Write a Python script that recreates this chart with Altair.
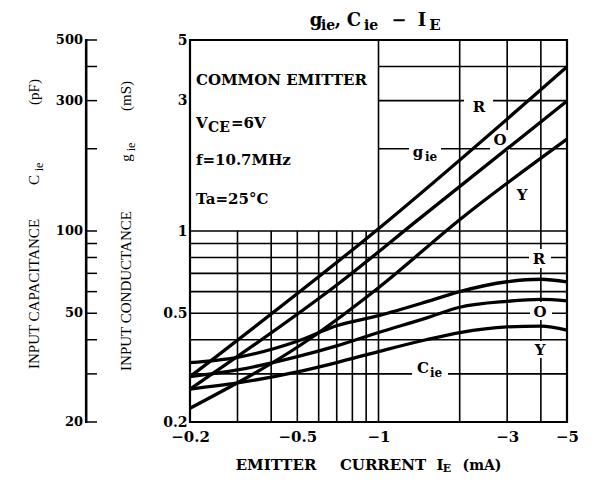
import altair as alt
import pandas as pd

# ---------------- data ----------------
ie_ticks = [0.2, 0.5, 1, 3, 5]            # |IE| in mA (shown with a minus sign)
gie_ticks = [0.2, 0.5, 1, 3, 5]           # gie in mS
cie_ticks_pf = [20, 30, 40, 50, 60, 70, 80, 90, 100, 200, 300, 400, 500]
cie_labels_pf = [20, 50, 100, 300, 500]
cie_range_pf = [20, 500]

gie_R_I = [0.2, 1.0, 5.0]
gie_R = [0.293, 1.02, 3.99]
gie_O_I = [0.2, 0.74, 1.4, 5.0]
gie_O = [0.264, 0.662, 1.098, 2.99]
gie_Y_I = [0.2, 0.55, 1.0, 2.0, 5.0]
gie_Y = [0.2245, 0.40, 0.62, 1.10, 2.17]

cie_I = [0.2, 0.3, 0.5, 0.7, 1.0, 1.5, 2.0, 3.0, 4.0, 5.0]
cie_R_pf = [33.0, 34.5, 39.5, 45.0, 49.0, 55.0, 60.0, 65.2, 66.6, 65.2]
cie_O_pf = [29.3, 31.0, 34.7, 38.0, 42.5, 48.0, 52.6, 55.3, 56.2, 55.5]
cie_Y_pf = [26.4, 27.8, 30.5, 33.0, 36.2, 40.0, 42.5, 44.6, 44.9, 43.4]

grid_v_low = [0.3, 0.4, 0.5, 0.6, 0.7, 0.8, 0.9, 1, 2, 3, 4]
grid_v_high = [1, 2, 3, 4]
grid_h_low = [0.3, 0.4, 0.5, 0.6, 0.7, 0.8, 0.9, 1]
grid_h_high = [2, 3, 4]

# ---------------- tables ----------------
rows = []
for name, xs_, ys_ in [("gR", gie_R_I, gie_R), ("gO", gie_O_I, gie_O), ("gY", gie_Y_I, gie_Y)]:
    rows += [{"I": a, "v": b, "series": name} for a, b in zip(xs_, ys_)]
for name, ys_ in [("cR", cie_R_pf), ("cO", cie_O_pf), ("cY", cie_Y_pf)]:
    rows += [{"I": a, "v": b / 100.0, "series": name} for a, b in zip(cie_I, ys_)]
curves = pd.DataFrame(rows)

gv = pd.DataFrame([{"I": x, "y0": 0.2, "y1": 1.0} for x in grid_v_low] +
                  [{"I": x, "y0": 1.0, "y1": 5.0} for x in grid_v_high])
gh = pd.DataFrame([{"v": y, "x0": 0.2, "x1": 5.0} for y in grid_h_low] +
                  [{"v": y, "x0": 1.0, "x1": 5.0} for y in grid_h_high])

cie_t = pd.DataFrame({"pf": cie_ticks_pf})
cie_l = pd.DataFrame({"pf": cie_labels_pf})
cie_r = pd.DataFrame({"pf": cie_range_pf})
one = pd.DataFrame({"a": [0]})

# ---------------- styling ----------------
OX, OY = 190, 40          # plot origin on the page
W, H = 377, 382
SERIF = "DejaVu Serif"
TIMES = "Liberation Serif"

xs = alt.Scale(type="log", domain=[0.2, 5], nice=False)
ys = alt.Scale(type="log", domain=[0.2, 5], nice=False)
xaxis = alt.Axis(values=ie_ticks, labelExpr="'\u2212' + datum.value", grid=False, ticks=False,
                 domain=False, labelFlush=False, labelOverlap=False, labelFont=SERIF,
                 labelFontSize=15, labelFontWeight="bold", labelColor="black",
                 labelPadding=7, title=None)
yaxis = alt.Axis(values=gie_ticks, labelExpr="'' + datum.value", grid=False, ticks=False,
                 domain=False, labelFlush=False, labelOverlap=False, labelFont=SERIF,
                 labelFontSize=14, labelFontWeight="bold", labelColor="black",
                 labelPadding=3, title=None)


def X(f):
    return alt.X(f, type="quantitative", scale=xs, axis=xaxis)


def Y(f):
    return alt.Y(f, type="quantitative", scale=ys, axis=yaxis)


def txt(s, x, y, size=15, font=SERIF, weight="bold", align="left", angle=0, baseline="alphabetic"):
    return alt.Chart(one).mark_text(
        text=s, font=font, fontSize=size, fontWeight=weight, align=align,
        baseline=baseline, angle=angle, color="black"
    ).encode(x=alt.value(x - OX), y=alt.value(y - OY))


def box(x0, x1, y0, y1, color="white"):
    return alt.Chart(one).mark_rect(color=color).encode(
        x=alt.value(x0 - OX), x2=alt.value(x1 - OX), y=alt.value(y0 - OY), y2=alt.value(y1 - OY))


# ---------------- layers ----------------
grid_vert = alt.Chart(gv).mark_rule(color="black", strokeWidth=1.6).encode(
    x=X("I"), y=Y("y0"), y2="y1")
grid_hor = alt.Chart(gh).mark_rule(color="black", strokeWidth=1.6).encode(
    y=Y("v"), x=X("x0"), x2="x1")

boxes = [
    box(464, 493, 96, 117),   # R (gie)
    box(490, 510, 130, 151),  # O (gie)
    box(409, 441, 143, 164),  # gie
    box(514, 531, 186, 204),  # Y (gie)
    box(529, 551, 249, 268),  # R (Cie)
    box(530, 552, 302, 320),  # O (Cie)
    box(530, 551, 341, 358),  # Y (Cie)
    box(412, 448, 359, 380),  # Cie
]

lines = alt.Chart(curves).mark_line(color="black", strokeWidth=3.3, interpolate="monotone").encode(
    x=X("I"), y=Y("v"), detail="series:N")

# left capacitance scale (pF = 100 x mS position on the same log scale)
cie_domain = alt.Chart(cie_r).transform_calculate(v="datum.pf / 100").mark_line(
    color="black", strokeWidth=2.2).encode(x=alt.value(86 - OX), y=Y("v"))
cie_domain2 = box(85.0, 87.4, OY - 1, OY + H + 1, color="black")
cie_ticks = alt.Chart(cie_t).transform_calculate(v="datum.pf / 100").mark_rule(
    color="black", strokeWidth=1.5).encode(
    y=Y("v"), x=alt.value(86 - OX), x2=alt.value(97 - OX))
cie_labels = alt.Chart(cie_l).transform_calculate(v="datum.pf / 100").mark_text(
    font=SERIF, fontSize=13, fontWeight="bold", align="right", baseline="middle",
    color="black").encode(y=Y("v"), x=alt.value(83 - OX), text="pf:N")

texts = [
    # chart title: g_ie, C_ie - I_E
    txt("g", 316, 26, 18, align="center"),
    txt("ie", 328, 30, 14, align="center"),
    txt(",", 338, 26, 18, align="center"),
    txt("C", 354, 26, 18, align="center"),
    txt("ie", 371, 30, 14, align="center"),
    txt("\u2212", 399, 26, 18, align="center"),
    txt("I", 422, 26, 18, align="center"),
    txt("E", 435, 30, 15, align="center"),
    # x-axis title
    txt("EMITTER", 276, 470, 15, align="center"),
    txt("CURRENT", 383, 470, 15, align="center"),
    txt("I", 440, 470, 15, align="center"),
    txt("E", 447, 472, 11, align="center"),
    txt("(mA)", 482, 470, 14, align="center"),
    # condition box
    txt("COMMON EMITTER", 196, 85, 15),
    txt("V", 196, 128, 15),
    txt("CE", 208, 132, 14),
    txt("=6V", 231, 128, 15),
    txt("f=10.7MHz", 196, 165, 15),
    txt("Ta=25\u00b0C", 196, 204, 15),
    # curve labels
    txt("R", 479, 112, 15, align="center"),
    txt("O", 500, 145, 15, align="center"),
    txt("g", 418, 157, 15, align="center"),
    txt("ie", 431, 161, 12, align="center"),
    txt("Y", 522, 200, 15, align="center"),
    txt("R", 539, 264, 15, align="center"),
    txt("O", 540, 317, 15, align="center"),
    txt("Y", 540, 355, 15, align="center"),
    txt("C", 423, 373, 15, align="center"),
    txt("ie", 436, 377, 12, align="center"),
    # left axis titles (rotated)
    txt("INPUT CAPACITANCE", 39, 294, 15, font=TIMES, weight="normal", align="center", angle=270),
    txt("C", 39, 180, 15, font=TIMES, weight="normal", align="center", angle=270),
    txt("ie", 43, 167, 12, font=TIMES, weight="normal", align="center", angle=270),
    txt("(pF)", 39, 92, 15, font=TIMES, weight="normal", align="center", angle=270),
    txt("INPUT CONDUCTANCE", 131, 291, 15, font=TIMES, weight="normal", align="center", angle=270),
    txt("g", 131, 158, 15, font=TIMES, weight="normal", align="center", angle=270),
    txt("ie", 135, 147, 12, font=TIMES, weight="normal", align="center", angle=270),
    txt("(mS)", 131, 96, 15, font=TIMES, weight="normal", align="center", angle=270),
]

chart = alt.layer(
    grid_vert, grid_hor, *boxes, lines, cie_domain, cie_domain2, cie_ticks, cie_labels, *texts
).properties(
    width=W, height=H,
    autosize=alt.AutoSizeParams(type="none"),
    padding={"left": OX - 8, "top": OY - 8, "right": 19, "bottom": 53},
    background="white",
).configure_view(stroke="black", strokeWidth=2.2)

chart.save("out.html", embed_options={"renderer": "svg", "actions": False})
